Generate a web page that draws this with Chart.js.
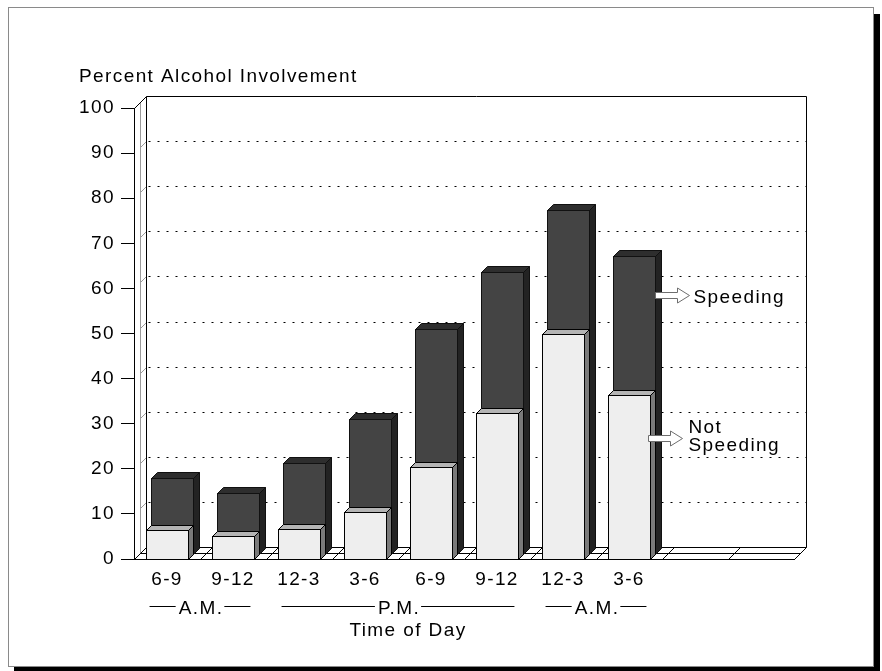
<!DOCTYPE html>
<html>
<head>
<meta charset="utf-8">
<title>Percent Alcohol Involvement by Time of Day</title>
<script src="https://cdn.jsdelivr.net/npm/chart.js@4.4.1/dist/chart.umd.min.js"></script>
<style>
  html, body { margin: 0; padding: 0; background: #ffffff; }
  canvas { display: block; }
</style>
</head>
<body>
<canvas id="chart" width="882" height="671"></canvas>
<script>
// Time-of-day slots (two trailing empty slots keep the floor running past the last bar)
const timeLabels = ['6-9', '9-12', '12-3', '3-6', '6-9', '9-12', '12-3', '3-6', '', ''];
// Percent alcohol involvement
const notSpeeding = [6.5, 5.2, 6.6, 10.4, 20.3, 32.3, 50.0, 36.3];
const speeding    = [16.9, 13.6, 20.2, 30.0, 49.9, 62.5, 76.2, 66.1];
const seriesNames = ['Not Speeding', 'Speeding'];
// Period grouping under the time slots
const periodLabels = ['A.M.', 'P.M.', 'A.M.'];
const periodFirst  = [0, 2, 6];
const periodLast   = [1, 5, 7];
const yAxisTitle = 'Percent Alcohol Involvement';
const xAxisTitle = 'Time of Day';

const FAMILY = '"Liberation Sans", Arial, Helvetica, sans-serif';
const FSIZE = 19;
const FONT = FSIZE + 'px ' + FAMILY;
const WALL = 12;           // depth of the 3-D frame in pixels

// Face colours and depth placement for each series
const barStyles = [
  { off: 0, depth: 5, front: '#eeeeee', top: '#b4b4b4', side: '#7a7a7a', line: '#000000' },
  { off: 5, depth: 6, front: '#444444', top: '#2e2e2e', side: '#232323', line: '#111111' }
];

function box(ctx, xl, xr, yt, yb, st) {
  const d = st.depth;
  const L = Math.round(xl + st.off) + 0.5;
  const R = Math.round(xr + st.off) + 0.5;
  const T = Math.round(yt - st.off) + 0.5;
  const B = Math.round(yb - st.off) + 0.5;
  ctx.lineWidth = 1;
  ctx.strokeStyle = st.line;
  ctx.lineJoin = 'miter';
  // right side face
  ctx.beginPath();
  ctx.moveTo(R, T); ctx.lineTo(R + d, T - d); ctx.lineTo(R + d, B - d); ctx.lineTo(R, B);
  ctx.closePath();
  ctx.fillStyle = st.side; ctx.fill(); ctx.stroke();
  // top face
  ctx.beginPath();
  ctx.moveTo(L, T); ctx.lineTo(L + d, T - d); ctx.lineTo(R + d, T - d); ctx.lineTo(R, T);
  ctx.closePath();
  ctx.fillStyle = st.top; ctx.fill(); ctx.stroke();
  // front face
  ctx.fillStyle = st.front;
  ctx.fillRect(L, T, R - L, B - T);
  ctx.strokeRect(L, T, R - L, B - T);
}

function line(ctx, x1, y1, x2, y2) {
  ctx.beginPath(); ctx.moveTo(x1, y1); ctx.lineTo(x2, y2); ctx.stroke();
}

function arrow(ctx, x, y) {
  const shaft = 22, head = 12, sh = 3, hh = 7.5;
  ctx.beginPath();
  ctx.moveTo(x, y - sh);
  ctx.lineTo(x + shaft, y - sh);
  ctx.lineTo(x + shaft, y - hh);
  ctx.lineTo(x + shaft + head, y);
  ctx.lineTo(x + shaft, y + hh);
  ctx.lineTo(x + shaft, y + sh);
  ctx.lineTo(x, y + sh);
  ctx.closePath();
  ctx.fillStyle = '#ffffff'; ctx.fill();
  ctx.strokeStyle = '#6e6e6e'; ctx.lineWidth = 1; ctx.stroke();
}

const frame3d = {
  id: 'frame3d',
  beforeDraw(chart) {
    const ctx = chart.ctx;
    ctx.letterSpacing = '1.4px';
    ctx.save();
    ctx.fillStyle = '#ffffff';
    ctx.fillRect(0, 0, chart.width, chart.height);
    // page frame with drop shadow
    ctx.fillStyle = '#000000';
    ctx.fillRect(874, 14, 6, 657);
    ctx.fillRect(14, 667, 866, 4);
    ctx.strokeStyle = '#8a8a8a';
    ctx.lineWidth = 1;
    ctx.strokeRect(8.5, 7.5, 865, 659);
    ctx.restore();
  },
  beforeDatasetsDraw(chart) {
    const ctx = chart.ctx;
    const a = chart.chartArea;
    const xs = chart.scales.x, ys = chart.scales.y;
    const L = Math.round(a.left) + 0.5, R = Math.round(a.right) + 0.5;
    const T = Math.round(a.top) + 0.5, B = Math.round(a.bottom) + 0.5;
    ctx.save();
    ctx.lineWidth = 1;
    // dotted gridlines on the back wall
    ctx.strokeStyle = '#000000';
    ctx.setLineDash([2, 7]);
    ys.ticks.forEach(t => {
      if (t.value <= 0 || t.value >= 100) return;
      const y = Math.round(ys.getPixelForValue(t.value)) - WALL + 0.5;
      line(ctx, L + WALL + 2, y, R + WALL, y);
    });
    ctx.setLineDash([]);
    // gridline traces on the left wall
    ctx.strokeStyle = '#9a9a9a';
    ys.ticks.forEach(t => {
      if (t.value <= 0 || t.value >= 100) return;
      const y = Math.round(ys.getPixelForValue(t.value)) + 0.5;
      line(ctx, L + 6, y - 6, L + WALL, y - WALL);
    });
    // left wall inner edge
    line(ctx, L + 6, T - 6, L + 6, B - 6);
    // back wall outline
    ctx.strokeStyle = '#000000';
    line(ctx, L, T, L + WALL, T - WALL);
    line(ctx, L + WALL, T - WALL, R + WALL, T - WALL);
    line(ctx, R + WALL, T - WALL, R + WALL, B - WALL);
    line(ctx, L + WALL, T - WALL, L + WALL, B - WALL);
    // floor
    line(ctx, L + WALL, B - WALL, R + WALL, B - WALL);
    line(ctx, L + 6, B - 6, R + 6, B - 6);
    line(ctx, R, B, R + WALL, B - WALL);
    const step = xs.getPixelForValue(1) - xs.getPixelForValue(0);
    for (let i = 0; i < timeLabels.length; i++) {
      const bx = Math.round(xs.getPixelForValue(i) - step / 2) + 0.5;
      line(ctx, bx, B, bx + WALL, B - WALL);
    }
    ctx.restore();
  },
  beforeDatasetDraw(chart, args) {
    const ctx = chart.ctx;
    const st = barStyles[args.index];
    ctx.save();
    args.meta.data.forEach(el => {
      const p = el.getProps(['x', 'y', 'base', 'width'], true);
      box(ctx, p.x - p.width / 2, p.x + p.width / 2, p.y, p.base, st);
    });
    ctx.restore();
    return false;
  },
  afterDraw(chart) {
    const ctx = chart.ctx;
    const ys = chart.scales.y;
    const front = chart.getDatasetMeta(0).data;
    const back = chart.getDatasetMeta(1).data;
    ctx.save();
    ctx.font = FONT;
    ctx.fillStyle = '#000000';
    ctx.textBaseline = 'alphabetic';

    // value axis title
    ctx.textAlign = 'left';
    ctx.fillText(yAxisTitle, 79, 82);

    // A.M. / P.M. brackets under the time slots
    ctx.textAlign = 'center';
    ctx.strokeStyle = '#000000';
    ctx.lineWidth = 1;
    const by = 606.5;
    periodLabels.forEach((lab, i) => {
      const f = front[periodFirst[i]], l = front[periodLast[i]];
      const x1 = f.x - f.width / 2 + 4, x2 = l.x + l.width / 2 - 4;
      const cx = (x1 + x2) / 2;
      const w = ctx.measureText(lab).width;
      ctx.fillText(lab, cx + 1, 614);
      line(ctx, x1, by, cx - w / 2 - 2, by);
      line(ctx, cx + w / 2 + 2, by, x2, by);
    });

    // category axis title
    ctx.fillText(xAxisTitle, 408, 636);

    // series call-outs on the last pair of bars
    const lastF = front[front.length - 1];
    const lastB = back[back.length - 1];
    const yS = Math.round(ys.getPixelForValue(58.5)) + 0.5;
    const yN = Math.round(ys.getPixelForValue(26.9)) + 0.5;
    const xS = Math.round(lastB.x + lastB.width / 2 + barStyles[1].off) + 0.5;
    const xN = Math.round(lastF.x + lastF.width / 2) - 2 + 0.5;
    arrow(ctx, xS, yS);
    arrow(ctx, xN, yN);
    ctx.fillStyle = '#000000';
    ctx.textAlign = 'left';
    ctx.fillText(seriesNames[1], xS + 38, yS + 7);
    const parts = seriesNames[0].split(' ');
    ctx.fillText(parts[0], xN + 40, yN - 6);
    ctx.fillText(parts[1], xN + 40, yN + 12);
    ctx.restore();
  }
};

new Chart(document.getElementById('chart'), {
  type: 'bar',
  data: {
    labels: timeLabels,
    datasets: [
      { label: seriesNames[0], data: notSpeeding, grouped: false,
        backgroundColor: barStyles[0].front, borderColor: barStyles[0].line, borderWidth: 1 },
      { label: seriesNames[1], data: speeding, grouped: false,
        backgroundColor: barStyles[1].front, borderColor: barStyles[1].line, borderWidth: 1 }
    ]
  },
  options: {
    responsive: false,
    animation: false,
    devicePixelRatio: 1,
    categoryPercentage: 1,
    barPercentage: 0.65,
    layout: { padding: { top: 108, right: 88, bottom: 0, left: 0 } },
    plugins: { legend: { display: false }, tooltip: { enabled: false }, title: { display: false } },
    scales: {
      x: {
        type: 'category',
        offset: true,
        grid: { display: false, drawTicks: false },
        border: { display: true, color: '#000000', width: 1 },
        ticks: { color: '#000000', font: { family: FAMILY, size: FSIZE }, padding: 9,
                 maxRotation: 0, autoSkip: false },
        afterFit(scale) { scale.height = 112; }
      },
      y: {
        min: 0, max: 100,
        ticks: { stepSize: 10, color: '#000000', font: { family: FAMILY, size: FSIZE }, padding: 6 },
        grid: { drawOnChartArea: false, drawTicks: true, tickLength: 13, color: '#000000', tickColor: '#000000' },
        border: { display: true, color: '#000000', width: 1 },
        afterFit(scale) { scale.width = 134; }
      }
    }
  },
  plugins: [frame3d]
});
</script>
</body>
</html>
